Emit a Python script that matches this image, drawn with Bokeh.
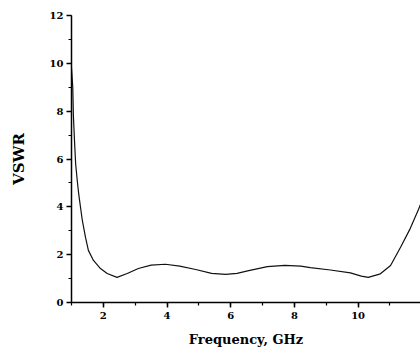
from bokeh.plotting import figure
from bokeh.models import SingleIntervalTicker, Range1d
from bokeh.embed import file_html
from bokeh.resources import INLINE

freq = [1.00, 1.04, 1.06, 1.10, 1.13, 1.18, 1.23, 1.34, 1.44, 1.53, 1.69, 1.91,
        2.12, 2.43, 2.75, 3.10, 3.50, 3.95, 4.40, 4.90, 5.40, 5.84, 6.20, 6.53,
        7.15, 7.70, 8.20, 8.50, 9.13, 9.76, 10.10, 10.32, 10.70, 11.02, 11.33,
        11.64, 11.90, 11.96]
vswr = [9.8, 9.0, 7.8, 6.6, 5.8, 5.1, 4.5, 3.43, 2.72, 2.18, 1.76, 1.42,
        1.21, 1.05, 1.21, 1.42, 1.56, 1.6, 1.52, 1.38, 1.22, 1.18, 1.22, 1.32,
        1.5, 1.55, 1.52, 1.46, 1.36, 1.24, 1.1, 1.05, 1.2, 1.55, 2.3,
        3.1, 3.9, 4.1]

x_label = "Frequency, GHz"
y_label = "VSWR"

p = figure(frame_width=349, frame_height=287, output_backend="svg",
           toolbar_location=None, x_range=Range1d(1, 11.96), y_range=Range1d(0, 12),
           min_border_left=71, min_border_top=15, min_border_right=0,
           min_border_bottom=47)
p.outline_line_color = None
p.grid.visible = False
p.background_fill_color = "white"

p.line(freq, vswr, line_color="#111111", line_width=1.2)

for ax in (p.xaxis[0], p.yaxis[0]):
    ax.ticker = SingleIntervalTicker(interval=2, num_minor_ticks=2)
    ax.axis_line_width = 1.5
    ax.axis_line_color = "black"
    ax.major_tick_line_width = 1.5
    ax.minor_tick_line_width = 1.2
    ax.major_tick_in = 0
    ax.major_tick_out = 5
    ax.minor_tick_in = 0
    ax.minor_tick_out = 3
    ax.major_label_text_font = "DejaVu Serif"
    ax.major_label_text_font_style = "bold"
    ax.major_label_text_font_size = "10px"
    ax.major_label_text_color = "black"
    ax.axis_label_text_font = "DejaVu Serif"
    ax.axis_label_text_font_style = "bold"
    ax.axis_label_text_color = "black"

p.xaxis.axis_label = x_label
p.yaxis.axis_label = y_label
p.xaxis.axis_label_text_font_size = "13px"
p.yaxis.axis_label_text_font_size = "15px"
p.xaxis.major_label_standoff = 4
p.xaxis.axis_label_standoff = 10
p.yaxis.major_label_standoff = 3
p.yaxis.axis_label_standoff = 19

open("out.html", "w").write(file_html(p, INLINE))
